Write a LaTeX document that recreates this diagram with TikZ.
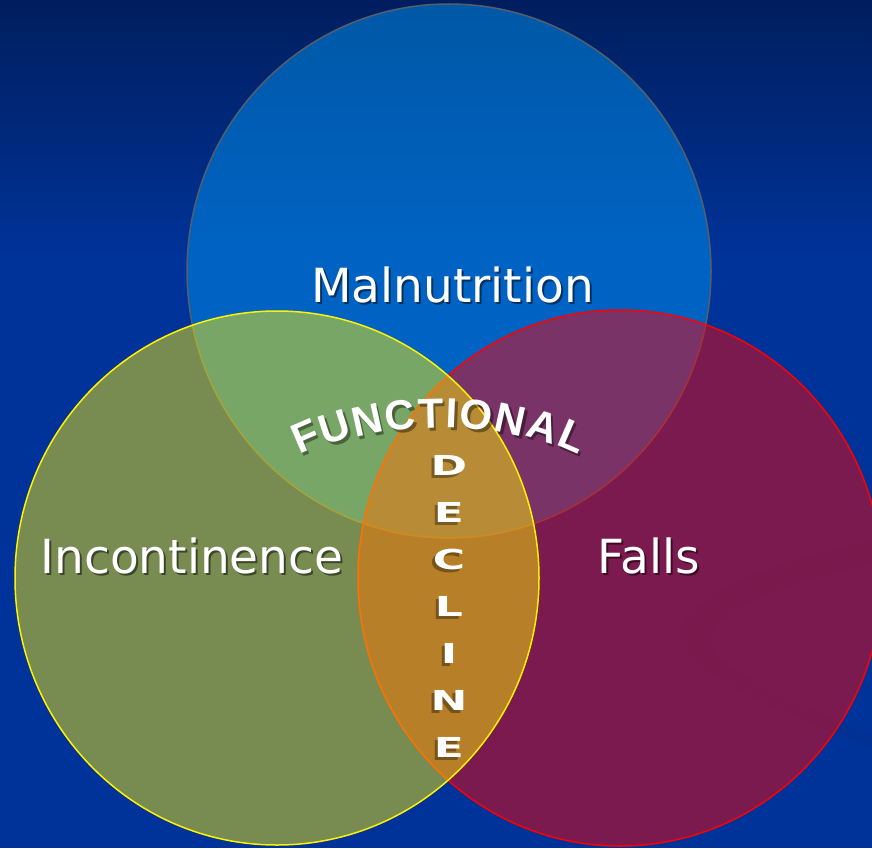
\documentclass[tikz,border=0pt]{standalone}
\usepackage{fontspec}
\setmainfont{DejaVu Sans}
\newfontfamily\archfont{Liberation Sans}
\usetikzlibrary{calc}

\definecolor{bgtop}{RGB}{0,30,94}
\definecolor{bgbot}{RGB}{0,51,153}
\definecolor{malblue}{RGB}{0,147,239}
\definecolor{malrim}{RGB}{85,95,108}

\begin{document}
\begin{tikzpicture}[x=1pt,y=-1pt]
		\tikzstyle{setname}=[text=white, font=\fontsize{47}{50}\selectfont,
							anchor=base, inner sep=0pt]
		\tikzstyle{setshade}=[setname, text=black, text opacity=0.5]
		\tikzstyle{archletter}=[text=white, font=\archfont\bfseries\fontsize{42}{42}\selectfont,
							anchor=base, inner sep=0pt]
		\tikzstyle{archshade}=[archletter, text=black, text opacity=0.4]
		\tikzstyle{declletter}=[text=white, font=\bfseries\fontsize{27.5}{28}\selectfont,
							anchor=base, inner sep=0pt]
		\tikzstyle{declshade}=[declletter, text=black, text opacity=0.35]

		\useasboundingbox (0,0) rectangle (872,848);
		\clip (0,0) rectangle (872,848);

		% background
		\shade[top color=bgtop, bottom color=bgbot] (0,0) rectangle (872,260);
		\fill[bgbot] (0,259) rectangle (872,848);
		\fill[black, opacity=0.035] (872,541) .. controls (760,560) and (660,610) .. (682,645)
			.. controls (700,680) and (800,720) .. (872,748) -- (872,735)
			.. controls (800,705) and (720,670) .. (712,645)
			.. controls (705,615) and (790,580) .. (872,565) -- cycle;

		% centres
		\coordinate (Mc) at (449,271);
		\coordinate (Ic) at (277,578);
		\coordinate (Fc) at (620,578);

		% circles
		\fill[malblue, opacity=0.5] (Mc) ellipse [x radius=262pt, y radius=267pt];
		\draw[malrim, line width=1.5pt] (Mc) ellipse [x radius=262pt, y radius=267pt];
		\fill[red, opacity=0.48] (Fc) ellipse [x radius=262pt, y radius=268pt];
		\draw[red, line width=1.5pt] (Fc) ellipse [x radius=262pt, y radius=268pt];
		\fill[yellow, opacity=0.47] (Ic) ellipse [x radius=262pt, y radius=267pt];
		\draw[yellow, line width=1.5pt] (Ic) ellipse [x radius=262pt, y radius=267pt];

		% names
		\node[setshade] (Mal-s) at (454.5,304) {Malnutrition};
		\node[setname] (Mal) at (452.5,302) {Malnutrition};
		\node[setshade] (Inc-s) at (194,575) {Incontinence};
		\node[setname] (Inc) at (192,573) {Incontinence};
		\node[setshade] (Fal-s) at (651,575) {Falls};
		\node[setname] (Fal) at (649,573) {Falls};

		% FUNCTIONAL
		\coordinate (arcC) at (439,828);
		\foreach \ch/\pos [count=\i] in {F/-130.39, U/-100.9, N/-69.08, C/-37.26, T/-7.77,
				I/12.4, O/36.08, N/69.08, A/100.9, L/130.39}
		{
			\pgfmathsetmacro\ang{\pos*0.14324}
			\node[archshade, rotate=-1.25*\ang] (fun\i-s) at ($(arcC)+(\ang-90:400)+(2.5,3)$) {\ch};
			\node[archletter, rotate=-1.25*\ang] (fun\i) at ($(arcC)+(\ang-90:400)$) {\ch};
		}

		% DECLINE
		\foreach \ch [count=\i from 0] in {D,E,C,L,I,N,E}
		{
			\node[declshade] (dec\i-s) at (446,478+47*\i) {\scalebox{1.6}[1]{\ch}};
			\node[declletter] (dec\i) at (449,475+47*\i) {\scalebox{1.6}[1]{\ch}};
		}
\end{tikzpicture}
\end{document}
